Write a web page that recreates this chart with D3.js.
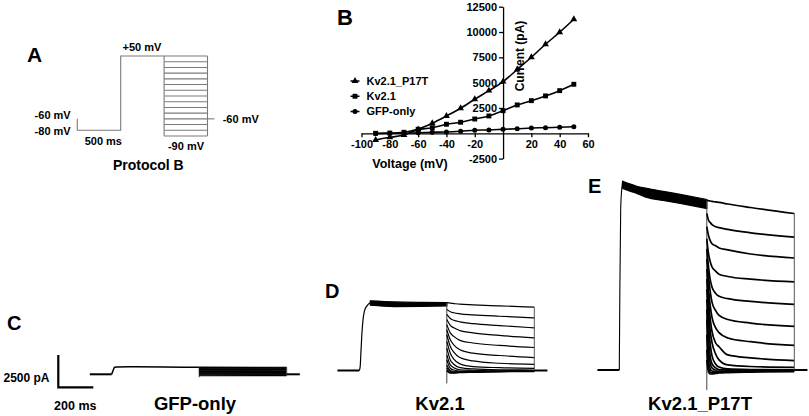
<!DOCTYPE html>
<html><head><meta charset="utf-8">
<script src="https://cdn.jsdelivr.net/npm/d3@7"></script>
<style>
body{margin:0;background:#fff}
svg{display:block}
text{font-family:"Liberation Sans",Arial,sans-serif;font-weight:bold;fill:#000}
</style></head>
<body><svg id="c" width="809" height="416"></svg>
<script>
// ================= DATA =================
// Panel A – voltage protocol
const protocolPreMv = -60;
const protocolHoldMv = -80;
const protocolStepMv = 50;
const protocolTailMv = [50,40,30,20,10,0,-10,-20,-30,-40,-50,-60,-70,-80,-90];
const protocolReturnMv = -60;
const protocolPhaseMs = 500;
const protocolReturnMs = 80;

// Panel B – I/V relation
const ivVoltage = [-90,-80,-70,-60,-50,-40,-30,-20,-10,0,10,20,30,40,50];
const ivP17T = [-660,-400,-170,390,990,1710,2470,3360,4210,5100,6300,7510,8790,9980,11260];
const ivKv21 = [0,20,100,390,550,890,1090,1410,1710,2230,2800,3220,3690,4210,4840];
const ivGFP  = [-30,0,0,60,100,130,200,300,330,390,450,520,550,590,650];
const ivXTicks = [-100,-80,-60,-40,-20,20,40,60];
const ivYTicks = [-2500,2500,5000,7500,10000,12500];
const ivSeriesNames = ["Kv2.1_P17T","Kv2.1","GFP-only"];

// Panels C–E – current traces (pA vs ms)
const scaleBarPA = 2500;
const scaleBarMs = 200;
const preMs = 125;
const postMs = 75;

// C: GFP-only
const gfpActMs = [0, 8, 17, 30, 100, 300, 500];
const gfpActPA = [0, 300, 540, 570, 580, 560, 550];
const gfpTailMs = [0, 500];
const gfpTailPA = [[560,540],[520,510],[470,470],[420,430],[370,380],[320,330],[270,280],[220,230],
                   [170,180],[120,130],[80,80],[40,40],[0,0],[-50,-40],[-110,-100]];
const gfpTransientPA = -230;

// D: Kv2.1
const kvActMs = [0, 5, 9, 15, 21, 30, 44, 63];
const kvActPA = [0, 300, 1330, 2890, 3900, 4630, 5000, 5260];
const kvBandMs = [63, 200, 350, 500];
const kvBandTopPA = [5390, 5310, 5270, 5250];
const kvBandBotPA = [5050, 4950, 4960, 4990];
const kvTailMs = [0, 20, 40, 75, 150, 300, 500];
const kvTailPA = [
  [5250,5210,5180,5130,5080,5000,4910],
  [4730,4550,4470,4390,4310,4200,4080],
  [4340,4020,3890,3770,3630,3480,3300],
  [3950,3500,3300,3090,2910,2720,2520],
  [3550,2910,2640,2330,2130,1940,1780],
  [3160,2380,1990,1600,1340,1160,1000],
  [2770,1860,1420,1000,740,560,480],
  [2250,1340,880,510,300,220,170],
  [1730,820,480,220,120,60,40],
  [1210,430,220,60,20,-20,-20],
  [820,170,40,-40,-40,-40,-40],
  [430,0,-60,-80,-60,-40,-40],
  [200,-80,-120,-120,-90,-60,-50],
  [40,-140,-160,-140,-120,-80,-60],
  [-40,-200,-200,-170,-140,-100,-80]
];
const kvTransientPA = -1000;

// E: Kv2.1_P17T
const p17ActMs = [0, 3, 8, 14, 19];
const p17ActPA = [0, 6000, 12500, 14000, 14610];
const p17BandMs = [19, 50, 100, 157, 250, 349, 500];
const p17BandTopPA = [14610, 14450, 14220, 14060, 13830, 13590, 13200];
const p17BandBotPA = [14060, 13900, 13670, 13360, 13125, 12890, 12500];
const p17TailMs = [0, 10, 20, 30, 50, 70, 120, 250, 500];
const p17TailPA = [
  [13125,13100,13080,13050,13010,12970,12850,12580,12110],
  [12110,11590,11410,11250,11090,11020,10880,10620,10290],
  [11090,10390,10000,9770,9610,9450,9300,8980,8670],
  [10160,8980,8360,7970,7660,7420,7240,7030,6820],
  [9375,7970,6950,6410,5940,5700,5520,5310,5080],
  [8590,7190,6020,5230,4610,4220,3910,3630,3380],
  [7810,6250,4920,4060,3280,2890,2480,2190,1900],
  [7030,5310,3910,2970,2110,1800,1170,940,730],
  [6250,4530,2970,2110,1250,780,390,270,210],
  [5470,3520,1950,1090,470,230,80,40,20],
  [4690,2340,1020,470,160,40,0,0,0],
  [3910,1410,470,160,0,0,0,0,0],
  [2730,630,80,-80,-120,-120,-80,-40,-40],
  [1560,160,-160,-230,-200,-160,-120,-80,-80],
  [780,-160,-310,-310,-270,-230,-200,-160,-120]
];
const p17TransientPA = -1560;

// ================= DRAW =================
const svg = d3.select("#c");

function label(txt, x, y, size, anchor) {
  return svg.append("text").attr("x", x).attr("y", y).attr("font-size", size)
    .attr("text-anchor", anchor || "start").text(txt);
}

// Panel letters
label("A", 27, 62, 21);
label("B", 337, 25, 22);
label("C", 7, 330, 20);
label("D", 325, 298, 20);
label("E", 588, 193, 20);

// ---------- Panel A ----------
(function(){
  const xA = d3.scaleLinear().domain([0, protocolPhaseMs]).range([77.3, 120.7]);
  const yA = d3.scaleLinear().domain([50, -90]).range([56, 136]);
  const g = svg.append("g").attr("fill","none").attr("stroke","#7a7a7a").attr("stroke-width",1.1);
  const line = d3.line().x(d=>xA(d[0])).y(d=>yA(d[1]));
  const P = protocolPhaseMs;
  g.append("path").attr("d", line([[0,protocolPreMv],[0,protocolHoldMv],[P,protocolHoldMv],[P,protocolStepMv],[2*P,protocolStepMv]]));
  const vmax = d3.max(protocolTailMv), vmin = d3.min(protocolTailMv);
  protocolTailMv.forEach(v => g.append("path").attr("d", line([[2*P,v],[3*P,v]])));
  g.append("path").attr("d", line([[2*P,vmax],[2*P,vmin]]));
  g.append("path").attr("d", line([[3*P,vmax],[3*P,vmin]]));
  g.append("path").attr("d", line([[3*P,protocolReturnMv],[3*P+protocolReturnMs,protocolReturnMv]]));

  label("+50 mV", 142, 50.5, 11, "middle");
  label("-60 mV", 70.7, 119, 11, "end");
  label("-80 mV", 70.7, 134.5, 11, "end");
  label("500 ms", 103.3, 145, 11, "middle");
  label("-90 mV", 186, 150, 11, "middle");
  label("-60 mV", 222.7, 122.5, 11, "start");
  label("Protocol B", 148.3, 170, 14, "middle");
})();

// ---------- Panel B ----------
(function(){
  const xB = d3.scaleLinear().domain([-100, 60]).range([361.5, 588]);
  const yB = d3.scaleLinear().domain([-2500, 12500]).range([158.6, 6.7]);
  const fmt = d => String(d);

  const ax = svg.append("g").attr("transform", `translate(0,${yB(0)})`)
    .call(d3.axisBottom(xB).tickValues(ivXTicks).tickFormat(fmt).tickSize(4).tickSizeOuter(0).tickPadding(3));
  const ay = svg.append("g").attr("transform", `translate(${xB(0)},0)`)
    .call(d3.axisLeft(yB).tickValues(ivYTicks).tickFormat(fmt).tickSize(4).tickSizeOuter(0).tickPadding(2));
  [ax, ay].forEach(a => {
    a.attr("font-family", null).attr("font-size", null);
    a.selectAll("path,line").attr("stroke","#000").attr("stroke-width",1.3);
    a.selectAll("text").attr("font-size", 11).style("font-weight","bold").attr("fill","#000");
  });

  const series = [
    {name: ivSeriesNames[0], vals: ivP17T, sym: d3.symbolTriangle, size: 20},
    {name: ivSeriesNames[1], vals: ivKv21, sym: d3.symbolSquare, size: 24},
    {name: ivSeriesNames[2], vals: ivGFP,  sym: d3.symbolCircle, size: 20}
  ];
  const line = d3.line().x((d,i)=>xB(ivVoltage[i])).y(d=>yB(d)).curve(d3.curveMonotoneX);
  series.forEach(s => {
    svg.append("path").attr("d", line(s.vals)).attr("fill","none").attr("stroke","#000").attr("stroke-width",1.6);
    svg.append("g").selectAll("path").data(s.vals).join("path")
      .attr("transform",(d,i)=>`translate(${xB(ivVoltage[i])},${yB(d)})`)
      .attr("d", d3.symbol().type(s.sym).size(s.size)).attr("fill","#000");
  });

  // legend
  const ly = d3.scalePoint().domain(ivSeriesNames).range([81, 111.5]);
  series.forEach(s => {
    const y = ly(s.name);
    svg.append("line").attr("x1",350.5).attr("x2",359.5).attr("y1",y).attr("y2",y).attr("stroke","#000").attr("stroke-width",1.5);
    svg.append("path").attr("transform",`translate(355,${y})`).attr("d", d3.symbol().type(s.sym).size(s.size)).attr("fill","#000");
    svg.append("text").attr("x",366.5).attr("y",y).attr("dy","0.36em").attr("font-size",11).text(s.name);
  });

  label("Voltage (mV)", 410, 167.5, 12.5, "middle");
  svg.append("text").attr("transform","translate(524,56) rotate(-90)").attr("text-anchor","middle")
    .attr("font-size",12).text("Current (pA)");
})();

// ---------- Traces ----------
function drawTrace(o) {
  const x = d3.scaleLinear().domain([0, scaleBarMs]).range([o.t0x, o.t0x + 35]);
  const y = d3.scaleLinear().domain([0, scaleBarPA]).range([o.base, o.base - 32.3]);
  const g = svg.append("g").attr("fill","none");
  const P = 500;
  const ln = d3.line().x(d=>x(d[0])).y(d=>y(d[1]));
  const lnc = d3.line().x(d=>x(d[0])).y(d=>y(d[1])).curve(d3.curveMonotoneX);

  g.append("path").attr("d", ln([[-preMs,0],[0,0]])).attr("stroke","#000").attr("stroke-width",2);
  g.append("path").attr("d", lnc(o.actMs.map((t,i)=>[t,o.actPA[i]]))).attr("stroke","#000").attr("stroke-width",o.riseW||1.2);
  if (o.bandMs) {
    const area = d3.area().x((d,i)=>x(o.bandMs[i])).y0((d,i)=>y(o.bandBot[i])).y1((d,i)=>y(o.bandTop[i])).curve(d3.curveMonotoneX);
    g.append("path").attr("d", area(o.bandMs)).attr("fill","#000").attr("stroke","#000").attr("stroke-width",1.2);
  }
  const plateauEnd = o.bandTop ? o.bandTop[o.bandTop.length-1] : o.actPA[o.actPA.length-1];
  g.append("path").attr("d", ln([[P,plateauEnd],[P,o.transient]])).attr("stroke","#444").attr("stroke-width",1);
  o.tailPA.forEach(s => {
    g.append("path").attr("d", lnc(o.tailMs.map((t,i)=>[P+t,s[i]])))
      .attr("stroke","#000").attr("stroke-width",o.tailW);
  });
  const ends = o.tailPA.map(s=>s[s.length-1]);
  const T1 = P + o.tailMs[o.tailMs.length-1];
  g.append("path").attr("d", ln([[T1,d3.max(ends)],[T1,Math.min(0,d3.min(ends))]])).attr("stroke","#555").attr("stroke-width",1);
  g.append("path").attr("d", ln([[T1,0],[T1+postMs,0]])).attr("stroke","#000").attr("stroke-width",2);
}

drawTrace({t0x:111.7, base:374.3, actMs:gfpActMs, actPA:gfpActPA, tailMs:gfpTailMs, tailPA:gfpTailPA,
           transient:gfpTransientPA, tailW:1.1, riseW:1.5});
drawTrace({t0x:359.3, base:370.5, actMs:kvActMs, actPA:kvActPA, bandMs:kvBandMs, bandTop:kvBandTopPA, bandBot:kvBandBotPA,
           tailMs:kvTailMs, tailPA:kvTailPA, transient:kvTransientPA, tailW:1.2});
drawTrace({t0x:619.3, base:370, actMs:p17ActMs, actPA:p17ActPA, bandMs:p17BandMs, bandTop:p17BandTopPA, bandBot:p17BandBotPA,
           tailMs:p17TailMs, tailPA:p17TailPA, transient:p17TransientPA, tailW:1.7, riseW:1.1});

// scale bar
(function(){
  const x = d3.scaleLinear().domain([0, scaleBarMs]).range([58.3, 93.3]);
  const y = d3.scaleLinear().domain([0, scaleBarPA]).range([387.3, 355]);
  const ln = d3.line().x(d=>x(d[0])).y(d=>y(d[1]));
  svg.append("path").attr("d", ln([[0,scaleBarPA],[0,0],[scaleBarMs,0]])).attr("fill","none")
    .attr("stroke","#000").attr("stroke-width",2.2);
  label(scaleBarPA + " pA", 49.5, 382, 12, "end");
  label(scaleBarMs + " ms", 75.3, 409.5, 12.5, "middle");
})();

// trace titles
label("GFP-only", 195, 410, 18.5, "middle");
label("Kv2.1", 440, 410, 18.5, "middle");
label("Kv2.1_P17T", 700, 410, 18.5, "middle");
</script></body></html>
